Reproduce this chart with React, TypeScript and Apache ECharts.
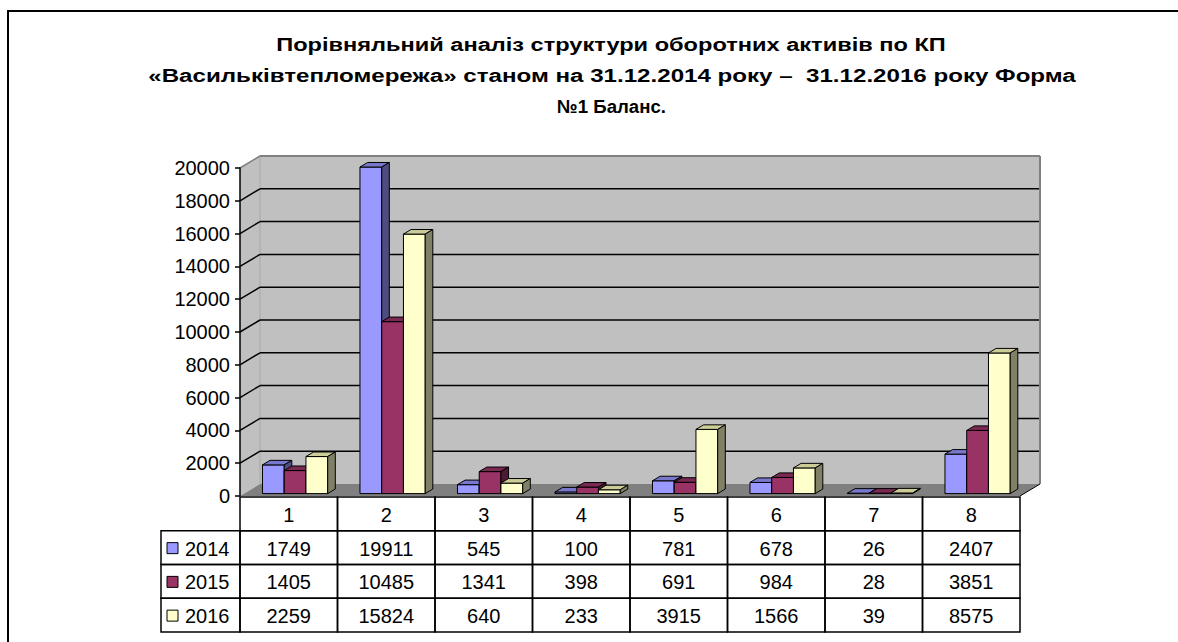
import React, { useEffect, useRef } from 'react';
import * as echarts from 'echarts';

const TITLE_LINES = [
  'Порівняльний аналіз структури оборотних активів по КП',
  '«Васильківтепломережа» станом на 31.12.2014 року –  31.12.2016 року Форма',
  '№1 Баланс.',
];
const CATEGORIES = ['1', '2', '3', '4', '5', '6', '7', '8'];
const SERIES_NAMES = ['2014', '2015', '2016'];
const VALUES_2014 = [1749, 19911, 545, 100, 781, 678, 26, 2407];
const VALUES_2015 = [1405, 10485, 1341, 398, 691, 984, 28, 3851];
const VALUES_2016 = [2259, 15824, 640, 233, 3915, 1566, 39, 8575];
const Y_TICKS = [0, 2000, 4000, 6000, 8000, 10000, 12000, 14000, 16000, 18000, 20000];

const SERIES_VALUES = [VALUES_2014, VALUES_2015, VALUES_2016];
const FACE = ['#9999ff', '#993366', '#ffffcc'];
const TOP = ['#7777cc', '#7a2952', '#cccc99'];
const SIDE = ['#4d4d80', '#4d1a33', '#808066'];

const FONT = "'Liberation Sans', Arial, sans-serif";
const TITLE_FONT = `bold 19px ${FONT}`;
// layout of title lines: centre x, centre y, target width
const TITLE_LAYOUT = [
  { x: 611, y: 45, w: 670 },
  { x: 612, y: 75.5, w: 928 },
  { x: 611.5, y: 106, w: 109 },
];
const DX = 20;
const DY = 12;
const FRONT = 0.2;
const BACK = 0.58;
const BAR_W = 0.223;
const SHIFT = 0.024;
const LEGEND_W = 79;

function wallsRender(params: any, api: any) {
  const cs = params.coordSys;
  const gx = cs.x, gy = cs.y, gw = cs.width, gh = cs.height;
  const children: any[] = [];
  children.push({
    type: 'polygon',
    shape: { points: [[gx, gy], [gx + DX, gy - DY], [gx + DX, gy + gh - DY], [gx, gy + gh]] },
    style: { fill: '#c0c0c0', stroke: 'none' },
  });
  children.push({
    type: 'rect',
    shape: { x: gx + DX, y: gy - DY, width: gw, height: gh },
    style: { fill: '#c0c0c0', stroke: 'none' },
  });
  children.push({
    type: 'polygon',
    shape: { points: [[gx, gy + gh], [gx + DX, gy + gh - DY], [gx + gw + DX, gy + gh - DY], [gx + gw, gy + gh]] },
    style: { fill: '#808080', stroke: 'none' },
  });
  children.push({
    type: 'line',
    shape: { x1: gx + DX, y1: gy - DY, x2: gx + DX, y2: gy + gh - DY },
    style: { stroke: '#a8a8a8', lineWidth: 1 },
  });
  const maxV = Y_TICKS[Y_TICKS.length - 1];
  Y_TICKS.forEach((v) => {
    if (v === 0) return;
    const y = api.coord([0, v])[1];
    const col = v === maxV ? '#808080' : '#000';
    children.push({
      type: 'line',
      shape: { x1: gx, y1: y, x2: gx + DX, y2: y - DY },
      style: { stroke: col, lineWidth: 1.5 },
    });
    children.push({
      type: 'line',
      shape: { x1: gx + DX, y1: y - DY, x2: gx + gw + DX, y2: y - DY },
      style: { stroke: col, lineWidth: v === maxV ? 2 : 1.5 },
    });
  });
  children.push({
    type: 'line',
    shape: { x1: gx + gw + DX, y1: gy - DY, x2: gx + gw + DX, y2: gy + gh - DY },
    style: { stroke: '#808080', lineWidth: 2 },
  });
  children.push({
    type: 'line',
    shape: { x1: gx + gw + DX, y1: gy + gh - DY, x2: gx + gw, y2: gy + gh },
    style: { stroke: '#000', lineWidth: 1 },
  });
  return { type: 'group', children };
}

function makeBarRender(k: number) {
  return (params: any, api: any) => {
    const cat = api.value(0);
    const v = api.value(1);
    const base = api.coord([cat, 0]);
    const top = api.coord([cat, v]);
    const band = api.size([1, 0])[0];
    const w = band * BAR_W;
    const fx = DX * FRONT, fy = DY * FRONT;
    const bx = DX * (BACK - FRONT), by = DY * (BACK - FRONT);
    const x0 = base[0] - 1.5 * w + k * w + band * SHIFT + fx;
    const x1 = x0 + w;
    const yb = base[1] - fy;
    const yt = top[1] - fy;
    const st = { stroke: '#000', lineWidth: 1 };
    return {
      type: 'group',
      children: [
        { type: 'rect', shape: { x: x0, y: yt, width: w, height: Math.max(0, yb - yt) }, style: { fill: FACE[k], ...st } },
        { type: 'polygon', shape: { points: [[x0, yt], [x1, yt], [x1 + bx, yt - by], [x0 + bx, yt - by]] }, style: { fill: TOP[k], ...st } },
        { type: 'polygon', shape: { points: [[x1, yt], [x1 + bx, yt - by], [x1 + bx, yb - by], [x1, yb]] }, style: { fill: SIDE[k], ...st } },
      ],
    };
  };
}

const TABLE_CELLS: { c: number; r: number; text: string }[] = [];
CATEGORIES.forEach((cat, c) => TABLE_CELLS.push({ c, r: 0, text: cat }));
SERIES_VALUES.forEach((vals, s) => vals.forEach((v, c) => TABLE_CELLS.push({ c, r: s + 1, text: String(v) })));

function tableRender(params: any, api: any) {
  const cell = TABLE_CELLS[params.dataIndex];
  const center = api.coord([cell.c, cell.r]);
  const size = api.size([1, 1]);
  const cw = size[0], ch = size[1];
  const left = center[0] - cw / 2, topY = center[1] - ch / 2;
  const children: any[] = [
    { type: 'rect', shape: { x: left, y: topY, width: cw, height: ch }, style: { fill: 'none', stroke: '#000', lineWidth: 1.5 } },
    { type: 'text', style: { x: center[0], y: center[1] + 1, text: cell.text, fill: '#000', font: `20px ${FONT}`, align: 'center', verticalAlign: 'middle' } },
  ];
  if (cell.c === 0 && cell.r > 0) {
    const s = cell.r - 1;
    const lx = left - LEGEND_W;
    children.push({ type: 'rect', shape: { x: lx, y: topY, width: LEGEND_W, height: ch }, style: { fill: 'none', stroke: '#000', lineWidth: 1.5 } });
    children.push({ type: 'rect', shape: { x: lx + 6, y: center[1] - 5, width: 11, height: 11 }, style: { fill: FACE[s], stroke: '#000', lineWidth: 1 } });
    children.push({ type: 'text', style: { x: lx + 24, y: center[1] + 1, text: SERIES_NAMES[s], fill: '#000', font: `20px ${FONT}`, align: 'left', verticalAlign: 'middle' } });
  }
  return { type: 'group', children };
}

function measure(text: string, font: string): number {
  const cv = document.createElement('canvas');
  const ctx = cv.getContext('2d');
  if (!ctx) return 0;
  ctx.font = font;
  return ctx.measureText(text).width;
}

export default function App() {
  const ref = useRef<HTMLDivElement>(null);
  useEffect(() => {
    if (!ref.current) return;
    const chart = echarts.init(ref.current, undefined, { renderer: 'svg' });
    const titleGraphics = TITLE_LINES.map((line, i) => {
      const lay = TITLE_LAYOUT[i];
      const mw = measure(line, TITLE_FONT);
      const sx = mw > 0 ? lay.w / mw : 1;
      return {
        type: 'text',
        x: lay.x,
        y: lay.y,
        scaleX: sx,
        style: { text: line, font: TITLE_FONT, fill: '#000', align: 'center', verticalAlign: 'middle' },
      };
    });
    chart.setOption({
      animation: false,
      backgroundColor: '#ffffff',
      graphic: titleGraphics,
      grid: [
        { left: 240, top: 168, width: 780, height: 328, containLabel: false },
        { left: 240, top: 497, width: 780, height: 135, containLabel: false },
      ],
      xAxis: [
        { type: 'category', gridIndex: 0, data: CATEGORIES, show: false },
        { type: 'category', gridIndex: 1, data: CATEGORIES, show: false },
      ],
      yAxis: [
        {
          type: 'value',
          gridIndex: 0,
          min: Y_TICKS[0],
          max: Y_TICKS[Y_TICKS.length - 1],
          interval: Y_TICKS[1] - Y_TICKS[0],
          z: 10,
          axisLine: { show: true, lineStyle: { color: '#000', width: 1.5 } },
          axisTick: { show: true, length: 5, lineStyle: { color: '#000', width: 1.5 } },
          axisLabel: { color: '#000', fontSize: 20, fontFamily: FONT, margin: 10, formatter: (v: number) => String(v) },
          splitLine: { show: false },
        },
        { type: 'category', gridIndex: 1, data: ['', ...SERIES_NAMES], inverse: true, show: false },
      ],
      series: [
        {
          type: 'custom',
          name: 'walls',
          xAxisIndex: 0,
          yAxisIndex: 0,
          z: 1,
          silent: true,
          renderItem: wallsRender,
          data: [[0, 0]],
        },
        ...SERIES_VALUES.map((vals, k) => ({
          type: 'custom',
          name: SERIES_NAMES[k],
          xAxisIndex: 0,
          yAxisIndex: 0,
          z: 2,
          renderItem: makeBarRender(k),
          data: vals.map((v, c) => [c, v]),
        })),
        {
          type: 'custom',
          name: 'table',
          xAxisIndex: 1,
          yAxisIndex: 1,
          z: 3,
          renderItem: tableRender,
          data: TABLE_CELLS.map((t) => [t.c, t.r]),
        },
      ],
    });
    return () => chart.dispose();
  }, []);
  return (
    <div style={{ position: 'fixed', left: 0, top: 0, width: 1178, height: 642, overflow: 'hidden', background: '#fff' }}>
      <div ref={ref} style={{ position: 'absolute', left: 0, top: 0, width: 1178, height: 642 }} />
      <div
        style={{
          position: 'absolute',
          left: 7,
          top: 10,
          width: 1300,
          height: 800,
          borderLeft: '2px solid #000',
          borderTop: '2px solid #000',
          pointerEvents: 'none',
        }}
      />
    </div>
  );
}
